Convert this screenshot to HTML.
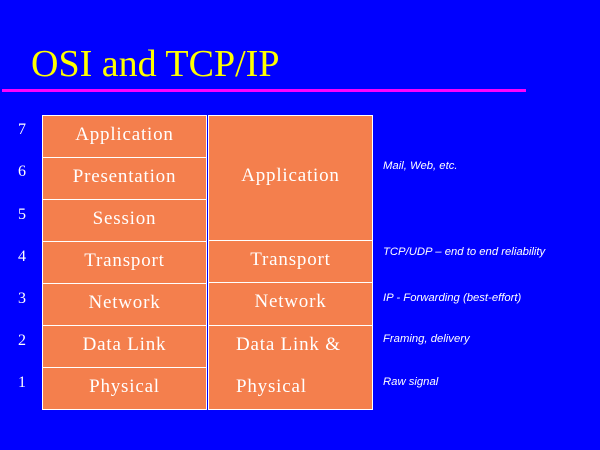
<!DOCTYPE html>
<html><head><style>
body{margin:0;width:600px;height:450px;background:#0000ff;overflow:hidden;position:relative;font-family:"Liberation Serif",serif;}
.t{position:absolute;left:31px;top:45px;font-size:38px;color:#ffff00;line-height:1;}
.line{position:absolute;left:2px;top:89px;width:524px;height:3px;background:#ff00ff;}
.b{position:absolute;background:#f47f4d;border:1px solid #fff;box-sizing:border-box;color:#fff;font-size:19px;letter-spacing:0.8px;display:flex;align-items:center;justify-content:center;padding-bottom:4px;}
.n{position:absolute;left:18px;color:#fff;font-size:16px;}
.a{position:absolute;left:383px;color:#fff;font-size:11.3px;font-style:italic;white-space:nowrap;font-family:"Liberation Sans",sans-serif;}
</style></head><body>
<div class="t">OSI and TCP/IP</div>
<div class="line"></div>
<div class="b" style="left:42px;top:115px;width:165px;height:43px">Application</div>
<div class="b" style="left:42px;top:157px;width:165px;height:43px">Presentation</div>
<div class="b" style="left:42px;top:199px;width:165px;height:43px">Session</div>
<div class="b" style="left:42px;top:241px;width:165px;height:43px">Transport</div>
<div class="b" style="left:42px;top:283px;width:165px;height:43px">Network</div>
<div class="b" style="left:42px;top:325px;width:165px;height:43px">Data Link</div>
<div class="b" style="left:42px;top:367px;width:165px;height:43px">Physical</div>
<div class="b" style="left:208px;top:115px;width:165px;height:126px">Application</div>
<div class="b" style="left:208px;top:240px;width:165px;height:43px">Transport</div>
<div class="b" style="left:208px;top:282px;width:165px;height:44px">Network</div>
<div class="b" style="left:208px;top:325px;width:165px;height:85px;display:block;padding-left:27px;line-height:42px;padding-top:0;padding-bottom:0"><div style="position:relative;top:-2px">Data Link &amp;<br>Physical</div></div>
<div class="n" style="top:121px">7</div>
<div class="n" style="top:163px">6</div>
<div class="n" style="top:206px">5</div>
<div class="n" style="top:248px">4</div>
<div class="n" style="top:290px">3</div>
<div class="n" style="top:332px">2</div>
<div class="n" style="top:374px">1</div>
<div class="a" style="top:160px">Mail, Web, etc.</div>
<div class="a" style="top:246px">TCP/UDP – end to end reliability</div>
<div class="a" style="top:292px">IP - Forwarding (best-effort)</div>
<div class="a" style="top:333px">Framing, delivery</div>
<div class="a" style="top:376px">Raw signal</div>
</body></html>
